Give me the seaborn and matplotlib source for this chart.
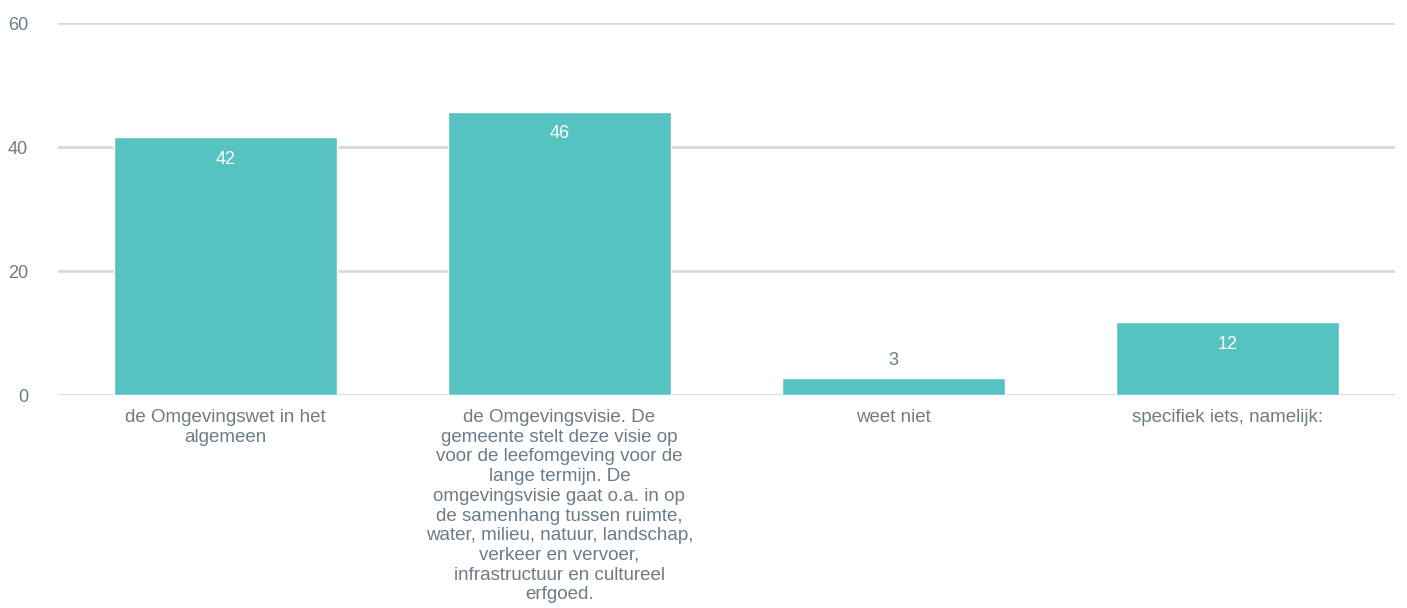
import matplotlib
matplotlib.use("Agg")
import matplotlib.pyplot as plt
import pandas as pd
import seaborn as sns


categories = [
    "de Omgevingswet in het\nalgemeen",
    "de Omgevingsvisie. De\ngemeente stelt deze visie op\nvoor de leefomgeving voor de\n"
    "lange termijn. De\nomgevingsvisie gaat o.a. in op\nde samenhang tussen ruimte,\n"
    "water, milieu, natuur, landschap,\nverkeer en vervoer,\ninfrastructuur en cultureel\nerfgoed.",
    "weet niet",
    "specifiek iets, namelijk:",
]
values = [41.6, 45.7, 2.7, 11.8]
y_ticks = [0, 20, 40, 60]

BAR_COLOR = "#57c3c0"
TEXT_COLOR = "#6b7c88"
GRID_COLOR = "#d9d9d9"

sns.set_style("white")
plt.rcParams["font.family"] = ["Liberation Sans", "DejaVu Sans"]

data = pd.DataFrame({"category": categories, "value": values})

fig = plt.figure(figsize=(14.07, 6.08), dpi=100)
ax = fig.add_axes([58 / 1407, 213 / 608, 1337 / 1407, 372 / 608])

sns.barplot(
    data=data,
    x="category",
    y="value",
    color=BAR_COLOR,
    saturation=1,
    width=0.667,
    ax=ax,
    zorder=3,
)

ax.set_ylim(0, 60)
ax.set_yticks(y_ticks)
ax.yaxis.grid(True, color=GRID_COLOR, linewidth=2, zorder=0)
ax.set_axisbelow(True)
for side in ["top", "right", "left", "bottom"]:
    ax.spines[side].set_visible(False)
ax.set_xlabel("")
ax.set_ylabel("")
ax.tick_params(axis="both", length=0, colors=TEXT_COLOR)
ax.tick_params(axis="y", pad=21.5, labelsize=13)
ax.tick_params(axis="x", pad=10, labelsize=13.5)
for lbl in ax.get_xticklabels():
    lbl.set_verticalalignment("top")
    lbl.set_linespacing(1.21)

# value labels: white inside the bar, grey above short bars
for patch, val in zip(ax.patches, values):
    cx = patch.get_x() + patch.get_width() / 2
    if val < 5:
        ax.annotate(f"{round(val)}", (cx, val), xytext=(0, 13), textcoords="offset points",
                    ha="center", va="center", color=TEXT_COLOR, fontsize=13)
    else:
        ax.annotate(f"{round(val)}", (cx, val), xytext=(0, -16), textcoords="offset points",
                    ha="center", va="center", color="white", fontsize=13)

fig.savefig("out.png", dpi=100)
